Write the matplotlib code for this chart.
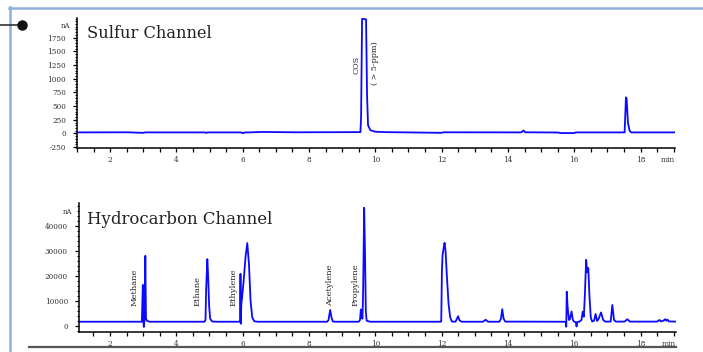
import matplotlib.pyplot as plt
from matplotlib.ticker import MultipleLocator
from matplotlib.lines import Line2D

# chromatogram key points (time in min, signal in nA)
s_time = [1.0, 2.5, 3.0, 3.05, 4.85, 4.9, 4.95, 5.95, 6.0, 6.05, 6.6, 7.6,
          9.55, 9.57, 9.6, 9.72, 9.75, 9.78, 9.85, 10.0, 10.3, 12.0, 12.05,
          14.4, 14.47, 14.52, 15.5, 15.6, 16.0, 16.05, 17.52, 17.56, 17.58,
          17.62, 17.67, 17.72, 19.1]
s_signal = [20, 22, 12, 20, 20, 12, 20, 20, 5, 18, 28, 22,
            25, 300, 2095, 2085, 700, 150, 60, 32, 25, 12, 22,
            20, 55, 22, 18, 8, 8, 20, 20, 660, 640, 200, 50, 20, 20]

h_time = [1.0, 2.96, 2.99, 3.005, 3.02, 3.045, 3.065, 3.085, 3.12, 3.2,
          4.85, 4.88, 4.90, 4.935, 4.96, 4.99, 5.02, 5.08, 5.2,
          5.90, 5.925, 5.935, 5.945, 5.96, 5.98, 6.03, 6.09, 6.14, 6.19, 6.24, 6.29, 6.35, 6.45,
          8.55, 8.59, 8.64, 8.68, 8.72, 8.8,
          9.50, 9.54, 9.565, 9.59, 9.615, 9.635, 9.665, 9.69, 9.715, 9.74, 9.85,
          11.97, 11.99, 12.01, 12.03, 12.06, 12.09, 12.12, 12.16, 12.21, 12.26, 12.31,
          12.42, 12.47, 12.50, 12.54, 12.60,
          13.25, 13.33, 13.4, 13.74, 13.79, 13.83, 13.87, 13.92,
          15.70, 15.75, 15.76, 15.775, 15.80, 15.84, 15.87, 15.92, 15.96, 16.00, 16.05,
          16.07, 16.09, 16.15, 16.22, 16.255, 16.29, 16.32, 16.36, 16.39, 16.425, 16.46,
          16.50, 16.54, 16.60, 16.645, 16.69, 16.73, 16.81, 16.87, 16.93,
          17.10, 17.15, 17.20, 17.26, 17.52, 17.6, 17.68,
          18.50, 18.57, 18.62, 18.70, 18.74, 18.78, 18.81, 18.86, 19.1]
h_signal = [1800, 1800, 16500, 2000, -300, 3000, 28100, 3000, 2100, 1800,
            1800, 2500, 15000, 26800, 20000, 8000, 3000, 1900, 1800,
            1800, 1900, 20900, 1000, 9000, 11000, 18000, 28000, 33200, 25000, 10000, 3500, 2000, 1800,
            1800, 2500, 6500, 3500, 1900, 1800,
            1800, 2500, 6700, 3500, 3000, 15000, 47300, 30000, 6000, 2200, 1800,
            1800, 2000, 22000, 28500, 31000, 33300, 30000, 20000, 9000, 3500, 1900,
            1800, 3200, 4000, 2400, 1800,
            1800, 2600, 1800, 1800, 3000, 6800, 3000, 1850,
            1800, 1700, -200, 13800, 8000, 2500, 2800, 5900, 2500, 1800, 1600,
            -100, 1600, 1800, 2500, 5800, 3800, 12000, 26500, 21500, 23300, 12000,
            3500, 1900, 2200, 4900, 2100, 2800, 5500, 2600, 1850,
            1850, 8500, 2500, 1850, 1850, 2800, 1850,
            1850, 2500, 1900, 2300, 2800, 2200, 2700, 1900, 1850]

x_labels = [2, 4, 6, 8, 10, 12, 14, 16, 18]
s_yticks = [-250, 0, 250, 500, 750, 1000, 1250, 1500, 1750]
h_yticks = [0, 10000, 20000, 30000, 40000]

hc_names = ['Methane', 'Ethane', 'Ethylene', 'Acetylene', 'Propylene']
hc_pos = [2.75, 4.63, 5.72, 8.64, 9.39]

W, H = 703, 352
fig = plt.figure(figsize=(W / 100, H / 100), dpi=100)
serif = 'DejaVu Serif'
tick_col = '#333333'
trace = '#0a0aff'


def style_axes(ax, yt, ymin, ymax, xmin, xmax, minor_y):
    ax.set_xlim(xmin, xmax)
    ax.set_ylim(ymin, ymax)
    for s in ['top', 'right']:
        ax.spines[s].set_visible(False)
    for s in ['left', 'bottom']:
        ax.spines[s].set_linewidth(1.1)
    ax.set_xticks(x_labels)
    ax.set_xticklabels([str(v) for v in x_labels], fontfamily=serif, fontsize=5.2, color=tick_col)
    ax.xaxis.set_minor_locator(MultipleLocator(0.5))
    ax.set_yticks(yt)
    ax.set_yticklabels([str(v) for v in yt], fontfamily=serif, fontsize=5.2, color=tick_col)
    ax.yaxis.set_minor_locator(MultipleLocator(minor_y))
    ax.tick_params(axis='x', which='both', length=3, width=0.9, pad=3)
    ax.tick_params(axis='y', which='major', length=3, width=0.9, pad=5)
    ax.tick_params(axis='y', which='minor', length=1.8, width=0.7)
    ax.patch.set_alpha(0)


# sulfur channel
ax1 = fig.add_axes([77 / W, 1 - 148 / H, 598 / W, 130 / H])
ax1.plot(s_time, s_signal, color=trace, lw=1.3)
style_axes(ax1, s_yticks, -265, 2110, 1.0, 19.04, 50)
ax1.text(-0.012, 0.94, 'nA', transform=ax1.transAxes, ha='right', va='center',
         fontfamily=serif, fontsize=5.0, color=tick_col)
ax1.text(1.0, -0.095, 'min', transform=ax1.transAxes, ha='right', va='center',
         fontfamily=serif, fontsize=5.4, color=tick_col)
ax1.text(0.017, 0.88, 'Sulfur Channel', transform=ax1.transAxes, ha='left', va='center',
         fontfamily=serif, fontsize=11.7, color='#222222')
ax1.text(9.42, 1250, 'COS', rotation=90, ha='center', va='center',
         fontfamily=serif, fontsize=5.8, color='#222222')
ax1.text(10.0, 1280, '( > 5-ppm)', rotation=90, ha='center', va='center',
         fontfamily=serif, fontsize=5.8, color='#222222')

# hydrocarbon channel
ax2 = fig.add_axes([79 / W, 1 - 332 / H, 597 / W, 129 / H])
ax2.plot(h_time, h_signal, color=trace, lw=1.3)
style_axes(ax2, h_yticks, -2300, 49200, 1.065, 19.07, 2000)
ax2.text(-0.012, 0.93, 'nA', transform=ax2.transAxes, ha='right', va='center',
         fontfamily=serif, fontsize=5.0, color=tick_col)
ax2.text(1.0, -0.095, 'min', transform=ax2.transAxes, ha='right', va='center',
         fontfamily=serif, fontsize=5.4, color=tick_col)
ax2.text(0.013, 0.87, 'Hydrocarbon Channel', transform=ax2.transAxes, ha='left', va='center',
         fontfamily=serif, fontsize=11.9, color='#222222')
for name, x in zip(hc_names, hc_pos):
    ax2.text(x, 8200, name, rotation=90, ha='center', va='bottom',
             fontfamily=serif, fontsize=6.0, color='#222222')

# page decorations: light blue frame, connector and bottom rule
frame = '#8fb0da'
fig.add_artist(Line2D([9.5 / W, 9.5 / W], [0, 1 - 7 / H], color=frame, lw=1.8))
fig.add_artist(Line2D([8.5 / W, 1], [1 - 7.5 / H, 1 - 7.5 / H], color=frame, lw=1.8))
fig.add_artist(Line2D([0, 22 / W], [1 - 25 / H, 1 - 25 / H], color='#222222', lw=1.1))
fig.add_artist(Line2D([22 / W], [1 - 25 / H], marker='o', markersize=6.5, color='#111111'))
fig.add_artist(Line2D([29 / W, 676 / W], [1 - 346.5 / H, 1 - 346.5 / H], color='#555555', lw=1.6))

fig.savefig('out.png', dpi=100)
